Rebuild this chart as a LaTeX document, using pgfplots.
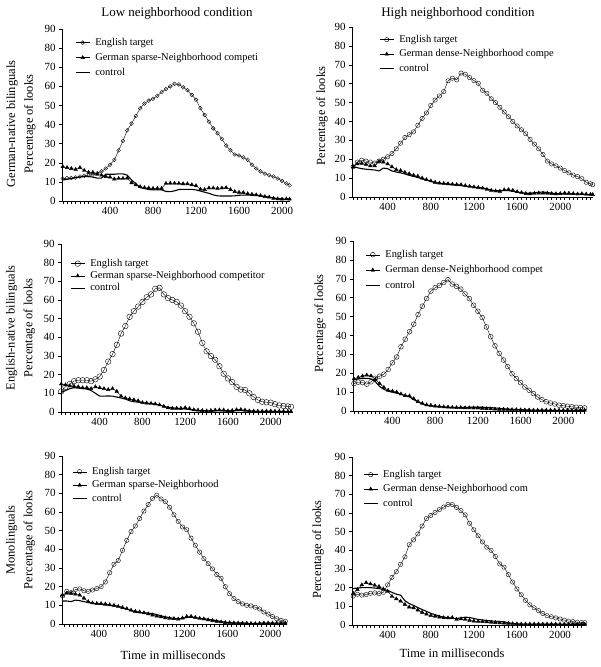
\documentclass[border=0pt]{standalone}
\usepackage{fontspec}
\setmainfont{Liberation Serif}
\usepackage{pgfplots}
\pgfplotsset{compat=1.18}
\usepackage{pgfplotstable}

\pgfplotstableread{
t eng ger con
-40 11.8 18 11
0 12 17.5 11.3
40 12 17 11.8
80 12.3 16.5 12.2
120 12.8 17.5 12.5
160 13.2 16 12.8
200 13.5 15 12.8
240 13.8 15 12.5
280 14.5 14 12
320 15.5 13.5 12
360 17 12.8 14
400 19 12.5 14
440 21.5 11.5 14
480 26.5 11.8 14.2
520 31.5 11.8 14.2
560 37 12 13.5
600 40.5 9.5 11
640 44.5 8.5 9
680 48.5 7.5 7
720 51 7 6.5
760 52.5 6.8 6
800 53.5 6.6 5.8
840 55 6.6 5.8
880 57 6.6 5.8
920 58.5 9.2 5
960 60 9.3 4.9
1000 61.3 9.3 5.3
1040 61 9.2 6
1080 59.5 9 6.1
1120 58 9 6.1
1160 55.5 8.5 6.1
1200 53 8 5.8
1240 48.6 6.2 5.2
1280 45 6 4.6
1320 41.5 6.8 4
1360 38 6.8 3.2
1400 35.5 6.6 2.7
1440 32.5 6.8 2.6
1480 29 7 2.6
1520 26.5 6 2.6
1560 24.3 4.9 2.7
1600 23.8 4.5 3
1640 22.8 4.4 3.1
1680 21.5 3.8 3.1
1720 19 3.5 3.1
1760 17 3.2 3
1800 15.5 2.8 2.8
1840 14.3 2.3 2.4
1880 13.5 2 2
1920 12.8 1.4 1.6
1960 11.8 1.1 1.3
2000 10.5 1 1.1
2040 9.2 1.1 0.9
2070 8.2 1 0.9
}\dataA

\pgfplotstableread{
t eng ger con
80 16 16 16
120 18.5 17.5 15.5
160 19.5 17.8 15
200 19 17.3 14.7
240 18.5 16.5 14.5
280 18 16.5 14.3
320 19 18.8 13.8
360 20 18.5 15.3
400 21.3 17.5 15
440 23 16 13.8
480 25.5 14.5 13.2
520 28.5 14 12.8
560 31.5 13 12.2
600 33 12.3 11.5
640 34.5 11.5 11
680 38 11 10.3
720 41.6 10 9.6
760 44.5 9.2 9
800 48.5 8.5 8.3
840 51.3 7.8 7.6
880 53.5 7.4 7.2
920 55.8 7.2 7
960 61.5 7 6.8
1000 62.9 6.8 6.5
1040 62 6.6 6.2
1080 65.6 6.5 6
1120 65 6 5.8
1160 63.2 5.6 5.5
1200 61.6 5.3 5.2
1240 60.2 5 5
1280 56.5 4.7 4.8
1320 54.9 4 4.3
1360 52 3.5 3.6
1400 50 3.2 3.3
1440 47.5 3 3.3
1480 45 3.8 3.5
1520 42.5 3.9 3.4
1560 40 3.5 3
1600 37.6 2.8 2.6
1640 35.6 2.3 2.3
1680 33.5 1.8 2
1720 30.5 1.7 2
1760 28 1.9 2.3
1800 25.5 2.1 2.5
1840 22.5 2.1 2.6
1880 19 2 2.4
1920 17.5 1.8 2
1960 16.5 1.7 1.8
2000 15.3 1.8 1.7
2040 14 2.1 1.6
2080 12.8 2 1.6
2120 11.6 1.8 1.5
2160 10.8 1.6 1.5
2200 9.7 1.7 1.5
2240 7.8 1.5 1.3
2280 7 1.4 1.2
2300 6.5 1.3 1.2
}\dataB

\pgfplotstableread{
t eng ger con
40 11 15 10.5
80 13.5 14.5 11.5
120 15 14 12.5
160 16.5 13.8 13
200 17 13.5 12.8
240 17 13 12.5
280 17 13 12.3
320 16.5 12.5 11.5
360 17.5 13.5 10
400 19 13 8.5
440 22.5 12.5 8.5
480 27 12 8.6
520 31 12.5 8.5
560 36 11 8
600 42 8.5 7.5
640 46 7.5 7
680 51 7 6
720 54 6.5 5.5
760 56.5 6 5.3
800 59 5 5
840 61.5 4.8 4.6
880 63 4.6 4.5
920 66 4.3 4.2
960 66.5 3.8 3.8
1000 63 3 3
1040 61 2.2 2.5
1080 60 2 2.2
1120 59 2 2
1160 57 2 1.8
1200 54 2.3 1.6
1240 51 1.8 1.3
1280 47.5 1.2 1
1320 43 1 0.8
1360 37 0.8 0.7
1400 32.5 0.6 0.6
1440 30 0.8 0.6
1480 28 1 0.7
1520 24.5 1.1 0.7
1560 20.5 1 0.6
1600 18 0.6 0.5
1640 16 0.8 0.6
1680 13.5 1.2 0.8
1720 12 1.3 0.8
1760 11.8 1 0.6
1800 10 0.6 0.5
1840 8 0.5 0.4
1880 6.5 0.4 0.3
1920 5.5 0.4 0.3
1960 5.2 0.5 0.3
2000 5 0.5 0.3
2040 4.2 0.4 0.3
2080 3.5 0.4 0.3
2120 3.2 0.4 0.2
2160 3 0.3 0.2
2190 2.8 0.2 0.2
}\dataC

\pgfplotstableread{
t eng ger con
40 14.5 17 16.5
80 15.3 17.8 17
120 15 18.5 17.2
160 14.2 19 17.3
200 15.5 18.6 17
240 17.3 16.8 15.5
280 18.4 14.5 13
320 19.5 12.5 11.5
360 22 11 10.5
400 25.5 10.5 10
440 28.6 10 9.5
480 34 9 9
520 38 8.2 8
560 42 8 7.5
600 46 6.5 6
640 51 5 4.8
680 55.5 4 3.8
720 59.5 3.3 3
760 63.5 3 2.7
800 65.3 2.6 2.5
840 66.5 2.4 2.3
880 68 2.2 2.1
920 69.5 2.1 2
960 67.2 1.9 1.9
1000 66 1.8 1.9
1040 64.5 1.8 1.9
1080 62 1.7 1.9
1120 59.5 1.7 2
1160 56 1.6 2
1200 52.8 1.6 2
1240 49.5 1.4 2
1280 44.5 1.2 1.9
1320 39.3 1.1 1.8
1360 34.5 1 1.6
1400 30.5 0.9 1.4
1440 27 0.9 1.2
1480 23.5 0.8 1
1520 19.7 0.7 0.9
1560 17.2 0.7 0.8
1600 15 0.6 0.7
1640 12.7 0.5 0.6
1680 11 0.5 0.5
1720 9.2 0.4 0.5
1760 7.4 0.4 0.4
1800 6 0.4 0.4
1840 4.9 0.4 0.4
1880 4.2 0.4 0.3
1920 3.7 0.4 0.3
1960 3.1 0.4 0.3
2000 2.8 0.4 0.3
2040 2.5 0.4 0.3
2080 2.2 0.4 0.3
2120 2 0.4 0.3
2160 1.8 0.4 0.3
2200 1.6 0.4 0.3
}\dataD

\pgfplotstableread{
t eng ger con
60 15 15.5 12.3
100 17.5 16.5 12.3
140 16.8 16.5 12
180 18.5 16 12.8
220 18.8 15.5 12.5
260 17.8 13.8 12
300 17.5 12 11.5
340 18.2 11.3 11
380 19 11 10.8
420 20 10.9 10.5
460 22.5 10.7 10.2
500 27.5 10.3 10
540 32 10 9.8
580 34 9.4 9.5
620 39.5 8.8 8.8
660 44.8 8.2 8
700 49.5 7.4 7.2
740 52.5 6.8 6.4
780 56.5 6.5 6
820 60.5 6 6
860 64 5.4 5.8
900 67.3 4.8 5.6
940 69 4.2 5
980 67 3.8 4.4
1020 65.5 3.3 3.8
1060 62.5 3 3.4
1100 58.5 2.9 3
1140 55 2.6 2.8
1180 52 3.2 3
1220 50.5 4 3.5
1260 46 4.1 3.6
1300 42.2 3.5 3.4
1340 38.5 3 3
1380 35 2.7 2.8
1420 32.3 2.2 2.5
1460 29.5 1.8 2.2
1500 26.5 1.4 1.8
1540 24.5 1.1 1.3
1580 20 0.8 0.9
1620 16.2 0.7 0.7
1660 13.6 0.6 0.6
1700 12 0.5 0.6
1740 10.8 0.5 0.5
1780 10 0.4 0.4
1820 9.7 0.3 0.3
1860 9 0.2 0.3
1900 8 0.3 0.4
1940 6.4 0.5 0.5
1980 5.3 0.5 0.5
2020 4 0.5 0.5
2060 2.8 0.5 0.5
2100 1.9 0.5 0.5
2140 1.5 0.5 0.5
}\dataE

\pgfplotstableread{
t eng ger con
80 15.5 17 19.5
120 16.5 19 19.8
160 16 21.5 20
200 16.3 22.7 20
240 17 22 20
280 17.2 21.3 19.8
320 16.8 20.6 19.5
360 17.5 19.3 19
400 21.5 18 18.5
440 25.5 15.3 17.5
480 28.5 14 16.5
520 32.5 12.8 16
560 36.5 11 13
600 43 9.6 11.5
640 45.6 9.2 10.5
680 48.8 8 9.3
720 53 6.8 8.3
760 57 5.8 7.3
800 58.7 5 6.3
840 60.3 4.7 5.5
880 61.8 4.2 4.8
920 63.2 3.9 4.2
960 64.6 3.8 3.8
1000 64.5 4 3.6
1040 63 3 3.5
1080 61.3 3.3 3.8
1120 59 3 4.2
1160 54.5 2.5 4
1200 51 2.1 3.5
1240 47.8 2 3
1280 44.5 1.8 2.7
1320 41.7 1.7 2.4
1360 40 1.5 2.2
1400 36.7 1.3 2
1440 32.7 1.1 1.8
1480 31 1 1.7
1520 27 0.9 1.2
1560 23 0.7 0.8
1600 19.3 0.6 0.6
1640 16.2 0.5 0.5
1680 13.2 0.5 0.5
1720 10.8 0.5 0.5
1760 9.2 0.5 0.5
1800 7.7 0.5 0.4
1840 6.2 0.5 0.4
1880 5 0.5 0.4
1920 4.4 0.5 0.4
1960 3.8 0.5 0.4
2000 3.2 0.4 0.4
2040 2.6 0.4 0.4
2080 2.1 0.4 0.4
2120 1.8 0.4 0.4
2160 1.5 0.4 0.4
2200 1.3 0.4 0.4
2230 1.2 0.4 0.4
}\dataF

\pgfplotsset{
 panel/.style={
  scale only axis,
  axis x line*=bottom, axis y line*=left,
  ymin=0, ymax=90, ytick={0,10,...,90},
  xtick={400,800,1200,1600,2000},
  minor xtick={-40,0,...,2320},
  tick align=outside,
  major tick length=3bp, minor tick length=3bp,
  tick style={black, line width=0.5pt},
  axis line style={black, line width=0.6pt},
  tick label style={font=\fontsize{11}{12}\selectfont},
  /pgf/number format/assume math mode=true,
  /pgf/number format/1000 sep={},
  clip=false,
  legend cell align=left,
  legend style={draw=none, fill=none, anchor=north west, inner sep=0pt,
    font=\fontsize{10.5}{12}\selectfont,
    nodes={inner sep=0pt, text height=7.5bp, text depth=2.5bp},
    /tikz/every odd column/.append style={column sep=5bp}},
  legend image code/.code={\draw[mark repeat=2,mark phase=2] plot coordinates {(0bp,0bp) (7bp,0bp) (14bp,0bp)};},
 },
 eng/.style={black, line width=0.4pt, mark=o, mark size=1.9bp, mark options={fill=white, line width=0.4pt}},
 ger/.style={black, line width=0.4pt, mark=triangle*, mark size=2.1bp, mark options={fill=black}},
 con/.style={black, line width=1.1pt, no marks},
}

\begin{document}
\begin{tikzpicture}
\useasboundingbox (0,0) rectangle (601bp,667bp);

% Panel 1
\begin{axis}[panel, at={(62bp,466bp)}, anchor=south west, width=228bp, height=172bp,
  xmin=-47, xmax=2074, legend style={at={(axis description cs:0.057,0.951)}, row sep=5bp}]
\addplot[eng] table[x=t,y=eng]{\dataA}; \addlegendentry{English target}
\addplot[ger] table[x=t,y=ger]{\dataA}; \addlegendentry{German sparse-Neighborhood competi}
\addplot[con] table[x=t,y=con]{\dataA}; \addlegendentry{control}
\end{axis}

% Panel 2
\begin{axis}[panel, at={(352bp,470bp)}, anchor=south west, width=241bp, height=170bp,
  xmin=70, xmax=2303, legend style={at={(axis description cs:0.112,0.956)}, row sep=4.5bp}]
\addplot[eng, mark size=2.2bp] table[x=t,y=eng]{\dataB}; \addlegendentry{English target}
\addplot[ger] table[x=t,y=ger]{\dataB}; \addlegendentry{German dense-Neighborhood compe}
\addplot[con] table[x=t,y=con]{\dataB}; \addlegendentry{control}
\end{axis}

% Panel 3
\begin{axis}[panel, at={(61bp,255bp)}, anchor=south west, width=231bp, height=168bp,
  xmin=38, xmax=2199, legend style={at={(axis description cs:0.039,0.914)}, row sep=2.3bp}]
\addplot[eng, mark size=2.8bp] table[x=t,y=eng]{\dataC}; \addlegendentry{English target}
\addplot[ger] table[x=t,y=ger]{\dataC}; \addlegendentry{German sparse-Neighborhood competitor}
\addplot[con] table[x=t,y=con]{\dataC}; \addlegendentry{control}
\end{axis}

% Panel 4
\begin{axis}[panel, at={(353bp,256bp)}, anchor=south west, width=232bp, height=170bp,
  xmin=31, xmax=2203, legend style={at={(axis description cs:0.052,0.95)}, row sep=5.5bp}]
\addplot[eng, mark size=2.4bp] table[x=t,y=eng]{\dataD}; \addlegendentry{English target}
\addplot[ger] table[x=t,y=ger]{\dataD}; \addlegendentry{German dense-Neighborhood compet}
\addplot[con] table[x=t,y=con]{\dataD}; \addlegendentry{control}
\end{axis}

% Panel 5
\begin{axis}[panel, at={(62bp,43bp)}, anchor=south west, width=225bp, height=168bp,
  xmin=55, xmax=2156, legend style={at={(axis description cs:0.044,0.9375)}, row sep=3.5bp}]
\addplot[eng, mark size=2.2bp] table[x=t,y=eng]{\dataE}; \addlegendentry{English target}
\addplot[ger] table[x=t,y=ger]{\dataE}; \addlegendentry{German sparse-Neighborhood}
\addplot[con] table[x=t,y=con]{\dataE}; \addlegendentry{control}
\end{axis}

% Panel 6
\begin{axis}[panel, at={(352bp,42bp)}, anchor=south west, width=233bp, height=168bp,
  xmin=69, xmax=2232, legend style={at={(axis description cs:0.047,0.926)}, row sep=4.5bp}]
\addplot[eng, mark size=2.2bp] table[x=t,y=eng]{\dataF}; \addlegendentry{English target}
\addplot[ger] table[x=t,y=ger]{\dataF}; \addlegendentry{German dense-Neighborhood com}
\addplot[con] table[x=t,y=con]{\dataF}; \addlegendentry{control}
\end{axis}

% Titles and labels
\node[font=\fontsize{13}{15}\selectfont] at (177bp,654bp) {Low neighborhood condition};
\node[font=\fontsize{13}{15}\selectfont] at (458bp,654bp) {High neighborhood condition};

\node[rotate=90, align=center, font=\fontsize{12.5}{18}\selectfont] at (21bp,543bp) {German-native bilinguals\\Percentage of looks};
\node[rotate=90, font=\fontsize{12.5}{15}\selectfont] at (322bp,551bp) {Percentage of looks};
\node[rotate=90, align=center, font=\fontsize{12.5}{18}\selectfont] at (20.5bp,339bp) {English-native bilinguals\\Percentage of looks};
\node[rotate=90, font=\fontsize{12.5}{15}\selectfont] at (320bp,343.5bp) {Percentage of looks};
\node[rotate=90, align=center, font=\fontsize{12.5}{18}\selectfont] at (20.5bp,127bp) {Monolinguals\\Percentage of looks};
\node[rotate=90, font=\fontsize{12.5}{15}\selectfont] at (318bp,117.5bp) {Percentage of looks};

\node[font=\fontsize{12.5}{15}\selectfont] at (173bp,12bp) {Time in milliseconds};
\node[font=\fontsize{12.5}{15}\selectfont] at (452bp,14bp) {Time in milliseconds};
\end{tikzpicture}
\end{document}
